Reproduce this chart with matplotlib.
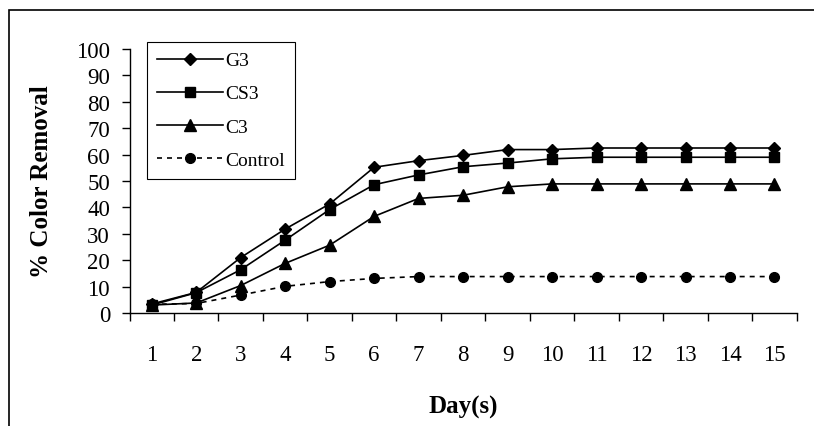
import matplotlib
matplotlib.use("Agg")
import matplotlib.pyplot as plt
from matplotlib.patches import Rectangle
import numpy as np

plt.rcParams['font.family'] = ['Liberation Serif', 'DejaVu Serif']

days = list(range(1, 16))
day_labels = [str(d) for d in days]
g3 = [3.4, 7.8, 21.0, 31.8, 41.3, 55.2, 57.7, 59.7, 61.9, 61.9, 62.5, 62.5, 62.5, 62.5, 62.5]
cs3 = [3.0, 7.7, 16.4, 27.6, 39.2, 48.6, 52.3, 55.4, 56.8, 58.4, 59.0, 59.0, 59.0, 59.0, 59.0]
c3 = [3.0, 3.8, 10.4, 18.8, 25.7, 36.6, 43.4, 44.6, 47.8, 48.9, 48.9, 48.9, 48.9, 48.9, 48.9]
control = [3.3, 3.6, 6.8, 10.1, 11.9, 13.1, 13.8, 13.8, 13.8, 13.8, 13.8, 13.8, 13.8, 13.8, 13.8]
y_ticks = list(range(0, 101, 10))

W, H = 814, 427
fig = plt.figure(figsize=(W / 100, H / 100), dpi=100)
ax = fig.add_axes([129.5 / W, 1 - 314 / H, (796.7 - 129.5) / W, (314 - 50) / H])

lw = 1.2
ax.plot(days, g3, color='black', lw=lw, marker='D', ms=6.5, label='G3')
ax.plot(days, cs3, color='black', lw=lw, marker='s', ms=7, label='CS3')
ax.plot(days, c3, color='black', lw=lw, marker='^', ms=8, label='C3')
ax.plot(days, control, color='black', lw=lw, ls=(0, (3, 3)), marker='o', ms=7, label='Control')

ax.set_xlim(0.5, 15.5)
ax.set_ylim(0, 100)

# category axis: ticks between days, labels centred on days
ax.set_xticks(np.arange(0.5, 16, 1.0))
ax.set_xticklabels([])
ax.set_xticks(days, minor=True)
ax.set_xticklabels(day_labels, minor=True, fontsize=16.5)
ax.tick_params(axis='x', which='major', direction='out', length=6, width=1, color='black')
ax.tick_params(axis='x', which='minor', length=0, pad=22)

ax.set_yticks(y_ticks)
ax.set_yticklabels([str(v) for v in y_ticks], fontsize=16.5)
ax.tick_params(axis='y', direction='out', length=6, width=1, pad=8)

for side in ['top', 'right']:
    ax.spines[side].set_visible(False)
for side in ['left', 'bottom']:
    ax.spines[side].set_linewidth(1)
    ax.spines[side].set_color('black')

ax.set_ylabel('% Color Removal', fontsize=18, fontweight='bold')
ax.yaxis.set_label_coords((53 - 129.5) / (796.7 - 129.5), 0.5)
ax.set_xlabel('Day(s)', fontsize=18, fontweight='bold')
ax.xaxis.set_label_coords(0.5, -(396 - 314) / 264)

leg = ax.legend(loc='upper left',
                bbox_to_anchor=((147 - 129.5) / 667.2, (314 - 43) / 264),
                borderaxespad=0, fontsize=14, frameon=True, fancybox=False,
                edgecolor='black', framealpha=1, handlelength=3.4,
                handletextpad=0.15, labelspacing=0.8, borderpad=0.5,
                numpoints=1)
leg.get_frame().set_linewidth(0.8)

# outer chart frame
fig.patches.append(Rectangle((9 / W, -0.1), 1.2, 1.1 - 11 / H,
                             transform=fig.transFigure, fill=False,
                             edgecolor='black', lw=1.2))

fig.savefig('out.png', dpi=100, facecolor='white')
